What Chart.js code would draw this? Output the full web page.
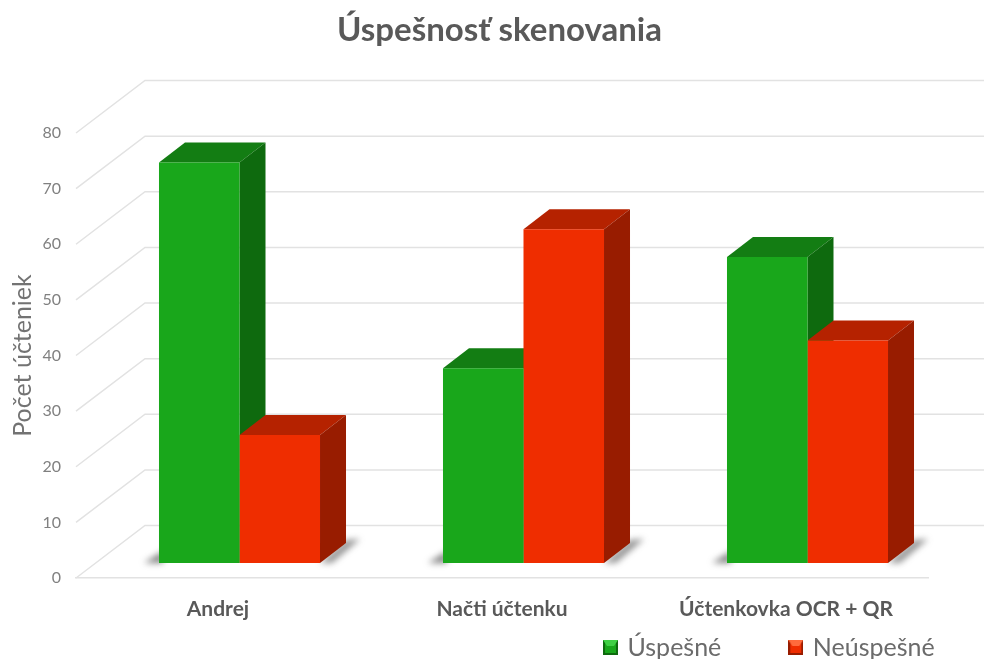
<!DOCTYPE html>
<html>
<head>
<meta charset="utf-8">
<title>Úspešnosť skenovania</title>
<script src="https://cdn.jsdelivr.net/npm/chart.js@4"></script>
<style>
    html, body { margin: 0; padding: 0; background: #fff; overflow: hidden; }
    canvas { display: block; filter: blur(0.5px); }
</style>
</head>
<body>
<canvas id="chart" width="984" height="659"></canvas>
<script>
const categories = ['Andrej', 'Načti účtenku', 'Účtenkovka OCR + QR'];
const seriesNames = ['Úspešné', 'Neúspešné'];
const successValues = [72, 35, 55];
const failedValues = [23, 60, 40];
const yTicks = [0, 10, 20, 30, 40, 50, 60, 70, 80];

const frontColors = ['#19a71b', '#ef2d00'];
const topColors = ['#137d13', '#b52200'];
const sideColors = ['#0e6a0e', '#981c00'];
const swatchLight = ['#3fd044', '#ff6a3c'];

// offsets of the fake 3d look
const wallX = 69, wallY = 52.5;
const barX = 21.5, barY = -15;
const depthX = 26, depthY = 20;

function poly(ctx, pts, fill) {
    ctx.beginPath();
    ctx.moveTo(pts[0][0], pts[0][1]);
    pts.slice(1).forEach(p => ctx.lineTo(p[0], p[1]));
    ctx.closePath();
    ctx.fillStyle = fill;
    ctx.fill();
}

// little bevelled legend square
function makeSwatch(i) {
    const c = document.createElement('canvas');
    c.width = 15;
    c.height = 15;
    const g = c.getContext('2d');
    g.fillStyle = sideColors[i];
    g.fillRect(0, 0, 15, 15);
    g.fillStyle = frontColors[i];
    g.fillRect(2, 2, 11, 11);
    poly(g, [[0, 0], [15, 0], [11, 6], [4, 6]], swatchLight[i]);
    return c;
}
const swatches = [makeSwatch(0), makeSwatch(1)];

const box3d = {
    id: 'box3d',
    beforeLayout(chart) {
        // legend takes no room, it is placed by hand below
        const legend = chart.legend;
        const fit = legend.fit;
        legend.fit = function() {
            fit.call(this);
            this.height = 0;
        };
    },
    afterLayout(chart) {
        // title and legend sit off centre in the original
        chart.titleBlock.left = 15;
        chart.titleBlock.right = 984;
        const legend = chart.legend;
        legend.left = 606 - legend.options.labels.padding;
        legend.right = 1100;
        legend.top = 565;
        legend.bottom = 659;
    },
    beforeDatasetsDraw(chart) {
        const ctx = chart.ctx;
        const y = chart.scales.y;
        const area = chart.chartArea;

        // walls and floor
        ctx.save();
        ctx.strokeStyle = '#e2e2e2';
        ctx.lineWidth = 1.5;
        yTicks.forEach(t => {
            const py = y.getPixelForValue(t);
            ctx.beginPath();
            ctx.moveTo(area.left, py);
            ctx.lineTo(area.left + wallX, py - wallY);
            ctx.lineTo(984, py - wallY);
            ctx.stroke();
        });
        ctx.restore();

        ctx.save();
        ctx.translate(barX, barY);

        // floor shadows
        ctx.save();
        ctx.filter = 'blur(3px)';
        chart.getDatasetMeta(0).data.forEach((bar, i) => {
            const left = bar.x - bar.width / 2;
            const right = chart.getDatasetMeta(1).data[i].x + bar.width / 2;
            const base = bar.base;
            poly(ctx, [[left - 15, base], [left + 4, base - 12], [left + 4, base]], 'rgba(80,80,80,0.7)');
            poly(ctx, [[right, base], [right + depthX, base - depthY - 3], [right + 40, base - 24], [right + 12, base]], 'rgba(80,80,80,0.6)');
        });
        ctx.restore();

        // top and side faces
        [0, 1].forEach(d => {
            chart.getDatasetMeta(d).data.forEach(bar => {
                const l = bar.x - bar.width / 2;
                const r = bar.x + bar.width / 2;
                const t = bar.y;
                const b = bar.base;
                poly(ctx, [[l, t], [l + depthX, t - depthY], [r + depthX, t - depthY], [r, t]], topColors[d]);
                poly(ctx, [[r, t], [r + depthX, t - depthY], [r + depthX, b - depthY], [r, b]], sideColors[d]);
            });
        });
        // left open for the bars, restored in afterDatasetsDraw
    },
    afterDatasetsDraw(chart) {
        chart.ctx.restore();
    }
};

new Chart(document.getElementById('chart'), {
    type: 'bar',
    data: {
        labels: categories,
        datasets: [
            { label: seriesNames[0], data: successValues, backgroundColor: frontColors[0] },
            { label: seriesNames[1], data: failedValues, backgroundColor: frontColors[1] }
        ]
    },
    options: {
        responsive: false,
        animation: false,
        layout: { padding: { right: 56 } },
        datasets: { bar: { barPercentage: 1, categoryPercentage: 0.567 } },
        scales: {
            x: {
                afterFit: s => { s.height = 81; },
                grid: { drawOnChartArea: false, drawTicks: false },
                border: { color: '#e2e2e2', width: 1.5 },
                ticks: {
                    color: '#595959',
                    padding: 19,
                    maxRotation: 0,
                    font: { family: 'Lato', size: 21, weight: 'bold' }
                }
            },
            y: {
                min: 0,
                max: 80,
                afterFit: s => { s.width = 76; },
                grid: { display: false, drawTicks: false },
                border: { display: false },
                ticks: {
                    stepSize: 10,
                    color: '#808080',
                    padding: 15,
                    font: { family: 'Lato', size: 16 }
                },
                title: {
                    display: true,
                    text: 'Počet účteniek',
                    color: '#737373',
                    padding: { top: 8, bottom: 0 },
                    font: { family: 'Lato', size: 25, lineHeight: 1.2 }
                }
            }
        },
        plugins: {
            title: {
                display: true,
                text: 'Úspešnosť skenovania',
                color: '#595959',
                padding: { top: 11, bottom: 82.4 },
                font: { family: 'Lato', size: 33, weight: 'bold', lineHeight: 1.2 }
            },
            legend: {
                position: 'bottom',
                align: 'start',
                labels: {
                    usePointStyle: true,
                    pointStyleWidth: 9,
                    boxHeight: 15,
                    padding: 70,
                    color: '#6b6b6b',
                    font: { family: 'Lato', size: 25 },
                    generateLabels(chart) {
                        return Chart.defaults.plugins.legend.labels.generateLabels(chart).map((item, i) => {
                            item.pointStyle = swatches[i];
                            return item;
                        });
                    }
                }
            },
            tooltip: { enabled: false }
        }
    },
    plugins: [box3d]
});
</script>
</body>
</html>
